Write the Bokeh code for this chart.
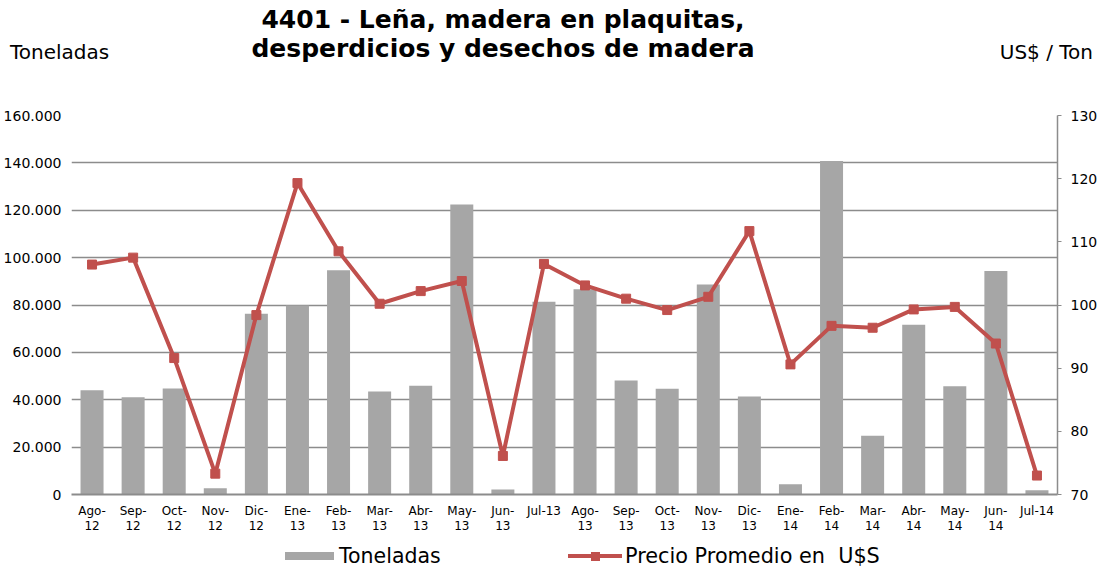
from bokeh.plotting import figure
from bokeh.models import (FactorRange, Range1d, LinearAxis, FixedTicker, Div,
                          ColumnDataSource)
from bokeh.layouts import column
from bokeh.embed import file_html
from bokeh.resources import INLINE

# ---- data ----
months = ["Ago-\n12", "Sep-\n12", "Oct-\n12", "Nov-\n12", "Dic-\n12", "Ene-\n13",
          "Feb-\n13", "Mar-\n13", "Abr-\n13", "May-\n13", "Jun-\n13", "Jul-13",
          "Ago-\n13", "Sep-\n13", "Oct-\n13", "Nov-\n13", "Dic-\n13", "Ene-\n14",
          "Feb-\n14", "Mar-\n14", "Abr-\n14", "May-\n14", "Jun-\n14", "Jul-14"]
toneladas = [44000, 41100, 44800, 2650, 76300, 79800, 94700, 43500, 45900, 122400,
             2100, 81400, 86600, 48100, 44600, 88700, 41400, 4300, 140800, 24800,
             71700, 45700, 94400, 1800]
precio = [106.4, 107.5, 91.6, 73.3, 98.4, 119.3, 108.5, 100.2, 102.2, 103.8,
          76.1, 106.5, 103.1, 101.0, 99.2, 101.3, 111.7, 90.6, 96.7, 96.4,
          99.3, 99.7, 93.9, 73.0]
left_ticks = [0, 20000, 40000, 60000, 80000, 100000, 120000, 140000, 160000]
right_ticks = [70, 80, 90, 100, 110, 120, 130]
title_lines = ["4401 - Leña, madera en plaquitas,", "desperdicios y desechos de madera"]
left_title = "Toneladas"
right_title = "US$ / Ton"
series_names = ["Toneladas", "Precio Promedio en  U$S"]

FONT = "DejaVu Sans"
BAR = "#A6A6A6"
RED = "#C0504D"
GRID = "#8C8C8C"

W = 1104
HEAD = 95
BOTTOM = 45
FIG_H = 20 + 379 + BOTTOM
FOOT = 570 - HEAD - FIG_H

header = Div(width=W, height=HEAD, margin=0, text=f"""
<div style="position:relative;width:{W}px;height:{HEAD}px;font-family:'DejaVu Sans';color:#000;">
  <div style="position:absolute;left:503px;top:7px;transform:translateX(-50%);white-space:nowrap;
              font-weight:bold;font-size:25px;line-height:26px;">{title_lines[0]}</div>
  <div style="position:absolute;left:503px;top:36px;transform:translateX(-50%);white-space:nowrap;
              font-weight:bold;font-size:25px;line-height:26px;">{title_lines[1]}</div>
  <div style="position:absolute;left:10px;top:40px;white-space:nowrap;
              font-size:20px;line-height:24px;">{left_title}</div>
  <div style="position:absolute;right:{W - 1093}px;top:40px;white-space:nowrap;
              font-size:20px;line-height:24px;">{right_title}</div>
</div>""")

src = ColumnDataSource(dict(m=months, t=toneladas, p=precio))

p = figure(width=W, height=FIG_H, output_backend="svg", toolbar_location=None,
           x_range=FactorRange(*months, range_padding=0),
           y_range=Range1d(0, 160000),
           frame_width=986, frame_height=379,
           min_border_left=71, min_border_right=47, min_border_top=20,
           min_border_bottom=BOTTOM, margin=0)
p.extra_y_ranges = {"price": Range1d(70, 130)}
p.outline_line_color = None

bars = p.vbar(x="m", top="t", width=0.56, source=src, fill_color=BAR,
              line_color=None)
ln = p.line(x="m", y="p", source=src, y_range_name="price", line_color=RED,
            line_width=4)
mk = p.scatter(x="m", y="p", source=src, y_range_name="price", marker="square",
               size=9, fill_color=RED, line_color=RED)

# left axis
ya = p.yaxis[0]
ya.ticker = FixedTicker(ticks=left_ticks)
ya.major_label_overrides = {v: (f"{v:,}".replace(",", ".")) for v in left_ticks}
ya.axis_line_color = None
ya.major_tick_line_color = None
ya.major_tick_out = 0
ya.major_tick_in = 0
ya.minor_tick_line_color = None
ya.major_label_standoff = 10
ya.major_label_text_font = FONT
ya.major_label_text_font_size = "14px"
ya.major_label_text_color = "#000000"

p.ygrid.ticker = FixedTicker(ticks=left_ticks)
p.ygrid.grid_line_color = GRID
p.ygrid.grid_line_width = 1.3
p.xgrid.grid_line_color = None

# right axis
ra = LinearAxis(y_range_name="price", ticker=FixedTicker(ticks=right_ticks))
ra.axis_line_color = GRID
ra.axis_line_width = 1.5
ra.major_tick_line_color = GRID
ra.major_tick_out = 4
ra.major_tick_in = 0
ra.minor_tick_line_color = None
ra.major_label_standoff = 9
ra.major_label_text_font = FONT
ra.major_label_text_font_size = "14px"
ra.major_label_text_color = "#000000"
p.add_layout(ra, "right")

# bottom axis
xa = p.xaxis[0]
xa.axis_line_color = GRID
xa.axis_line_width = 2
xa.major_tick_line_color = None
xa.major_tick_out = 0
xa.major_tick_in = 0
xa.minor_tick_line_color = None
xa.major_label_standoff = 9
xa.major_label_text_font = FONT
xa.major_label_text_font_size = "12px"
xa.major_label_text_line_height = 1.1
xa.major_label_text_color = "#000000"
xa.major_label_orientation = "horizontal"

# legend (below the chart)
CY = FOOT // 2 + 2
footer = Div(width=W, height=FOOT, margin=0, text=f"""
<div style="position:relative;width:{W}px;height:{FOOT}px;font-family:'DejaVu Sans';color:#000;">
  <div style="position:absolute;left:285px;top:{CY - 4}px;width:49px;height:8px;background:{BAR};"></div>
  <div style="position:absolute;left:339px;top:{CY - 12}px;white-space:pre;
              font-size:20.5px;line-height:24px;">{series_names[0]}</div>
  <div style="position:absolute;left:568px;top:{CY - 2}px;width:54px;height:4px;background:{RED};"></div>
  <div style="position:absolute;left:591px;top:{CY - 4.5}px;width:9px;height:9px;background:{RED};"></div>
  <div style="position:absolute;left:625px;top:{CY - 12}px;white-space:pre;
              font-size:20.8px;line-height:24px;">{series_names[1]}</div>
</div>""")

open("out.html", "w").write(file_html(column(header, p, footer, margin=0), INLINE))
